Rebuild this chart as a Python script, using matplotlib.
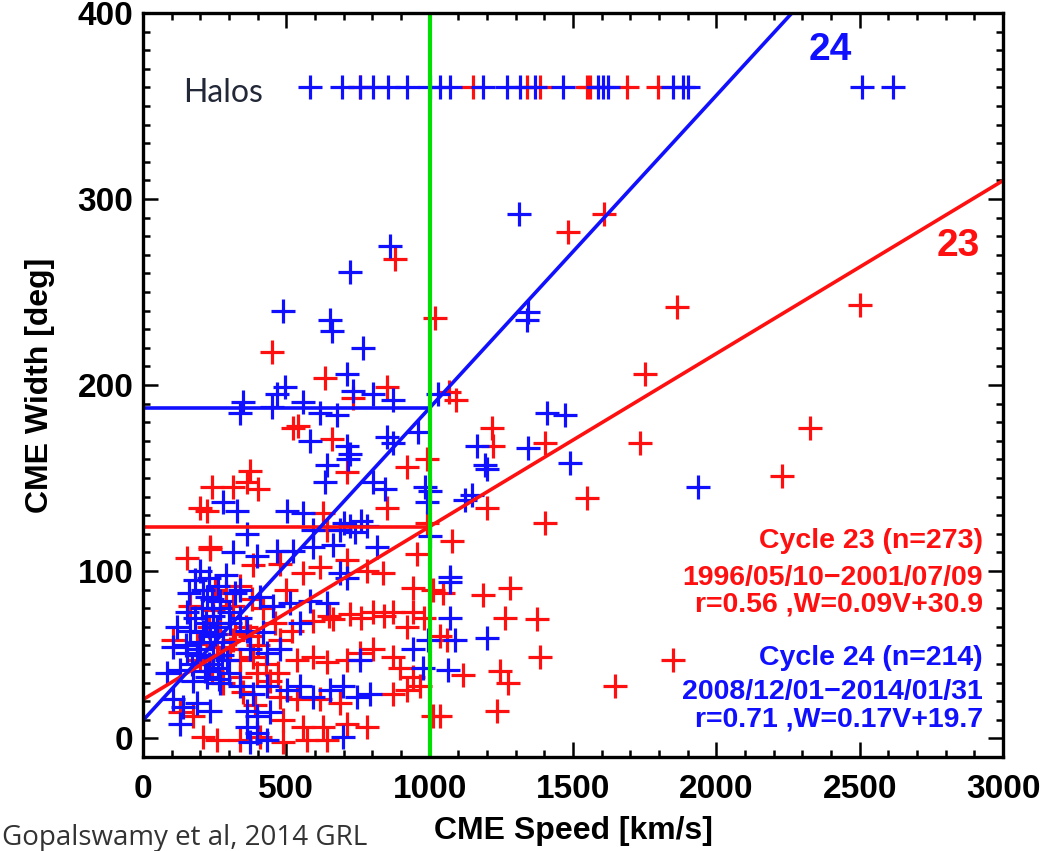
import matplotlib
matplotlib.use("Agg")
import matplotlib.pyplot as plt
from matplotlib.ticker import MultipleLocator

# cycle 23 (red) : speed [km/s], width [deg]
red_v = [1608, 1482, 879, 1862, 2501, 1018, 450, 635, 1751, 1067, 1092, 1217, 1221, 1402, 1734,
         1200, 1549, 1402, 1078, 1046, 1186, 1280, 1060, 1263, 1374, 1385, 1116, 1245, 1273, 1235, 1646,
         1849, 1036, 2327, 2229, 991, 956,
         851, 733, 523, 541, 659, 991, 921, 712, 373, 363, 401, 241, 314, 199, 223, 628, 851, 642, 234,
         153, 234, 384, 478, 558, 617, 712, 781, 837, 942, 1011, 164, 244, 314, 722, 802, 872, 942, 593,
         663, 921, 1036, 105, 188, 258, 314, 373, 478, 303, 338, 384, 537, 593, 642, 712, 757, 802, 872,
         896, 942, 338, 398, 443, 478, 537, 617, 687, 872, 921, 966, 129, 174, 488, 558, 628, 712, 781,
         1011, 209, 258, 338, 408, 488, 572, 642,
         250, 290, 340, 380, 420, 230, 270, 320, 360, 400, 200, 240, 280, 350, 390, 430, 460, 500, 520, 470,
         650, 760, 840, 980]
red_w = [292, 282, 268, 242, 243, 236, 218, 204, 206, 196, 192, 177, 167, 169, 169,
         134, 139, 126, 116, 88, 87, 91, 63, 75, 74, 54, 44, 46, 40, 25, 38,
         52, 22, 177, 151, 126, 109,
         199, 193, 177, 178, 171, 160, 156, 153, 154, 148, 144, 145, 145, 134, 132, 131, 134, 122, 113,
         107, 112, 103, 104, 99, 102, 106, 100, 99, 91, 90, 81, 79, 81, 77, 78, 78, 78, 73,
         74, 70, 65, 63, 61, 59, 63, 65, 63, 58, 52, 54, 52, 54, 51, 52, 56, 58, 54,
         48, 43, 43, 45, 41, 32, 31, 31, 29, 34, 36, 38, 24, 22, 20, 16, 16, 18, 16,
         22, 11, 9, 9, 11, 8, 9, 9,
         90, 88, 92, 85, 80, 70, 72, 66, 70, 60, 52, 46, 40, 35, 28, 50, 72, 90, 68, 45,
         76, 75, 76, 75]

# cycle 24 (blue)
blue_v = [1311, 861, 722, 1343, 1340, 488, 652, 659, 767, 712, 1029, 1409, 1472, 1165, 1193, 1200,
          1343, 1489, 1148, 1936, 1071, 1071, 1200, 1123,
          495, 467, 558, 733, 802, 872, 338, 349, 450, 617, 677, 582, 712, 722, 851, 872, 959, 642, 715,
          635, 802, 844, 984, 279, 328, 502, 558, 991, 722, 781, 687, 593, 363, 816, 1001, 1001,
          700, 740, 760,
          314, 398, 467, 523, 593, 663, 687, 712, 1071, 223, 269, 338, 408, 453, 513, 582, 642, 548, 119,
          164, 209, 258, 303, 363, 419, 105, 153, 199, 244, 293, 373, 433, 478, 757, 942, 977, 84, 129,
          174, 223, 269, 338, 384, 433, 502, 548, 593, 652, 698, 746, 792, 105, 140, 188, 234, 363, 398,
          443, 129, 363, 398, 698, 373, 433, 994, 1088, 1064,
          180, 200, 230, 260, 290, 160, 210, 240, 270, 300, 180, 220, 250, 280, 150, 200, 230, 260, 300,
          170, 320, 340, 190, 215, 245, 275, 155, 205, 235, 265]
blue_w = [292, 275, 261, 239, 235, 240, 235, 229, 220, 206, 195, 185, 184, 167, 157, 155,
          166, 158, 141, 145, 94, 75, 64, 138,
          199, 195, 191, 197, 195, 192, 185, 191, 188, 185, 184, 170, 167, 163, 172, 169, 175, 157, 160,
          148, 148, 144, 145, 137, 132, 132, 131, 137, 124, 124, 122, 122, 120, 113, 143, 119,
          126, 121, 127,
          110, 108, 111, 111, 113, 114, 99, 96, 97, 86, 84, 90, 86, 81, 83, 84, 83, 72, 70,
          68, 67, 70, 72, 68, 67, 59, 56, 58, 54, 52, 58, 56, 58, 52, 58, 48, 45, 47,
          41, 43, 40, 38, 34, 38, 36, 38, 32, 36, 38, 32, 34, 31, 27, 29, 25, 25, 22,
          24, 18, 16, 13, 11, 8, 9, 63, 63, 47,
          95, 100, 96, 92, 98, 88, 90, 85, 80, 78, 75, 72, 66, 62, 60, 62, 50, 48, 45,
          50, 88, 75, 55, 46, 76, 55, 78, 80, 65, 42]

# halo CMEs (plotted at a fixed width)
halo_w = 360
red_halo_v = [757, 1151, 1339, 1385, 1549, 1559, 1688, 1796]
blue_halo_v = [582, 694, 757, 802, 855, 921, 1001, 1036, 1071, 1186, 1270, 1315, 1367, 1465,
               1587, 1604, 1622, 1849, 1884, 1901, 2508, 2616]

# fits  W = a*V + b
red_fit = (0.093, 30.9)
blue_fit = (0.168, 19.7)
v_cut = 1000

RED = "#ff1010"
BLUE = "#1010ff"

fig = plt.figure(figsize=(10.44, 8.51), dpi=100)
ax = fig.add_axes([143/1044, 1-757/851, 860/1044, 744/851])

mk = dict(marker="+", linestyle="none", markersize=17, markeredgewidth=2.3)
ax.plot(red_v, red_w, color=RED, **mk)
ax.plot(red_halo_v, [halo_w]*len(red_halo_v), color=RED, **mk)
ax.plot(blue_v, blue_w, color=BLUE, **mk)
ax.plot(blue_halo_v, [halo_w]*len(blue_halo_v), color=BLUE, **mk)

# fit lines and the level at 1000 km/s
for (a, b), c in ((red_fit, RED), (blue_fit, BLUE)):
    ax.plot([0, 3000], [b, a*3000 + b], color=c, lw=2.6)
    ax.plot([0, v_cut], [a*v_cut + b]*2, color=c, lw=2.6)
ax.axvline(v_cut, color="#00e000", lw=3)

ax.set_xlim(0, 3000)
ax.set_ylim(0, 400)
ax.xaxis.set_major_locator(MultipleLocator(500))
ax.xaxis.set_minor_locator(MultipleLocator(100))
ax.set_yticks([10, 100, 200, 300, 400], ["0", "100", "200", "300", "400"])
ax.yaxis.set_minor_locator(MultipleLocator(10))
for s in ax.spines.values():
    s.set_linewidth(2.4)
ax.tick_params(which="both", direction="in", top=True, right=True, width=1.8)
ax.tick_params(which="major", length=11)
ax.tick_params(which="minor", length=5)
ax.tick_params(axis="x", pad=12)
ax.tick_params(axis="y", pad=7)
for lab in ax.get_xticklabels() + ax.get_yticklabels():
    lab.set_fontfamily("Liberation Sans")
    lab.set_fontweight("bold")
    lab.set_fontsize(24)

bold = dict(family="Liberation Sans", weight="bold")
ax.set_xlabel("CME Speed [km/s]", fontsize=23, labelpad=8, **bold)
ax.set_ylabel("CME Width [deg]", fontsize=23, labelpad=16, **bold)

ax.text(140, 357, "Halos", fontsize=23, family="Lato", color="#222838", va="center")
ax.text(2396, 380, "24", fontsize=28, color=BLUE, ha="center", va="center", **bold)
ax.text(2843, 275, "23", fontsize=28, color=RED, ha="center", va="center", **bold)

legend_lines = [
    ("Cycle 23 (n=273)", 116, RED),
    ("1996/05/10\u22122001/07/09", 96, RED),
    ("r=0.56 ,W=0.09V+30.9", 82, RED),
    ("Cycle 24 (n=214)", 53, BLUE),
    ("2008/12/01\u22122014/01/31", 35, BLUE),
    ("r=0.71 ,W=0.17V+19.7", 20, BLUE),
]
for txt, y, c in legend_lines:
    ax.text(2930, y, txt, fontsize=20.5, color=c, ha="right", va="center", **bold)

fig.text(0.002, 1-838/851, "Gopalswamy et al, 2014 GRL", fontsize=20, family="Open Sans",
         color="#333333", va="center", ha="left")

fig.savefig("out.png", dpi=100)
